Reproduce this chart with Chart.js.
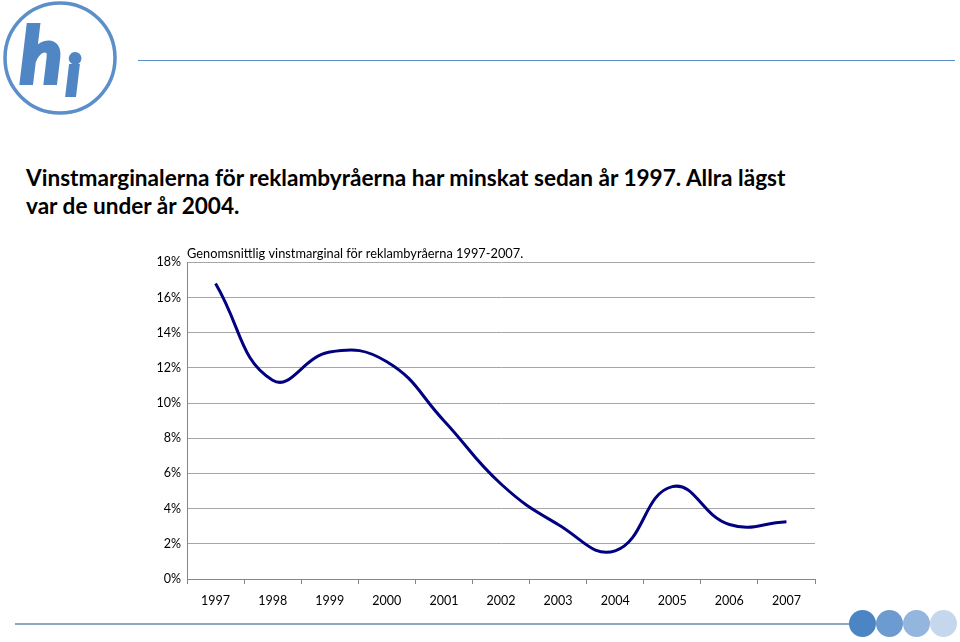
<!DOCTYPE html>
<html>
<head>
<meta charset="utf-8">
<script src="https://cdn.jsdelivr.net/npm/chart.js@4.4.1/dist/chart.umd.min.js"></script>
<style>
  body { margin: 0; background: #fff; width: 960px; height: 642px; position: relative; overflow: hidden; font-family: Lato, "Liberation Sans", sans-serif; }
  #logo { position: absolute; left: 2px; top: 1px; }
  #topline { position: absolute; left: 138px; top: 60px; width: 817px; height: 1px; background: #5b8cc6; }
  #heading { position: absolute; left: 26px; top: 164px; font-weight: bold; font-size: 22.6px; line-height: 28px; color: #000; }
  #wrap { position: absolute; left: 140px; top: 244px; width: 690px; height: 369px; }
  #bottomline { position: absolute; left: 15px; top: 623px; width: 836px; height: 2px; background: #8aa7c4; }
  .dot { position: absolute; top: 610px; width: 27px; height: 27px; border-radius: 50%; }
</style>
</head>
<body>
<svg id="logo" width="120" height="118" viewBox="0 0 120 118">
  <circle cx="58" cy="57" r="55" fill="none" stroke="#5a8fca" stroke-width="3.5"/>
  <text x="18" y="82" font-family="Lato, sans-serif" font-weight="bold" font-style="italic" font-size="78" fill="#4f86c3" stroke="#4f86c3" stroke-width="4">h</text>
  <text x="64" y="94" font-family="Lato, sans-serif" font-weight="bold" font-style="italic" font-size="56" fill="#4f86c3" stroke="#4f86c3" stroke-width="4">i</text>
</svg>
<div id="topline"></div>
<div id="heading">Vinstmarginalerna för reklambyråerna har minskat sedan år 1997. Allra lägst<br>var de under år 2004.</div>
<div id="wrap"><canvas id="marginChart"></canvas></div>
<div id="bottomline"></div>
<div class="dot" style="left:849px;background:#4b85c4"></div>
<div class="dot" style="left:876px;background:#6b9bd0"></div>
<div class="dot" style="left:903px;background:#93b6de"></div>
<div class="dot" style="left:930px;background:#c4d7ec"></div>

<script>
// years on the x axis
var years = ['1997', '1998', '1999', '2000', '2001', '2002', '2003', '2004', '2005', '2006', '2007'];
// average profit margin, percent
var margins = [16.8, 11.3, 12.9, 12.35, 9.0, 5.4, 3.1, 1.6, 5.25, 3.1, 3.26];
// y axis tick values
var yTicks = [0, 2, 4, 6, 8, 10, 12, 14, 16, 18];

var chartTitle = 'Genomsnittlig vinstmarginal för reklambyråerna 1997-2007.';

var ctx = document.getElementById('marginChart').getContext('2d');
var marginChart = new Chart(ctx, {
    type: 'line',
    data: {
        labels: years,
        datasets: [{
            label: 'vinstmarginal',
            data: margins,
            borderColor: '#000080',
            borderWidth: 3,
            pointRadius: 0,
            fill: false,
            tension: 0.45
        }]
    },
    options: {
        responsive: true,
        maintainAspectRatio: false,
        animation: false,
        layout: { padding: { left: 0, right: 15, top: 0, bottom: 0 } },
        plugins: {
            legend: { display: false },
            tooltip: { enabled: false },
            title: {
                display: true,
                text: chartTitle,
                align: 'start',
                fullSize: false,
                color: '#000',
                font: { family: 'Lato, sans-serif', size: 12.8, weight: 'normal' },
                padding: { top: 2, bottom: 1 }
            }
        },
        scales: {
            x: {
                offset: true,
                grid: { drawOnChartArea: false, drawTicks: true, tickLength: 5, offset: true, color: '#868686' },
                border: { color: '#868686' },
                ticks: { color: '#000', padding: 9, maxRotation: 0, font: { family: 'Lato, sans-serif', size: 12.5 } },
                afterFit: function(scale) { scale.height = 34; }
            },
            y: {
                min: 0,
                max: 18,
                afterBuildTicks: function(scale) {
                    scale.ticks = yTicks.map(v => ({ value: v }));
                },
                grid: { color: '#a6a6a6', drawTicks: false },
                border: { color: '#868686' },
                ticks: {
                    color: '#000',
                    padding: 6,
                    font: { family: 'Lato, sans-serif', size: 12.5 },
                    callback: function(value) { return value + '%'; }
                },
                afterFit: function(scale) { scale.width = 47; }
            }
        }
    }
});
</script>
</body>
</html>
